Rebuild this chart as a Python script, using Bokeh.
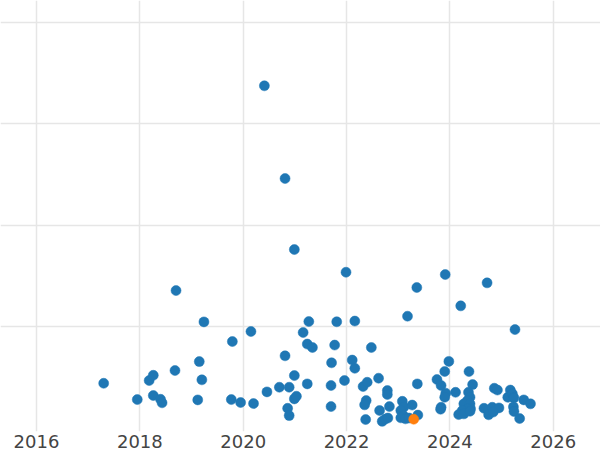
from bokeh.plotting import figure
from bokeh.models import FixedTicker, Range1d, ColumnDataSource
from bokeh.embed import file_html
from bokeh.resources import INLINE

# Decimal years and values
years = [
    2017.30, 2017.95, 2018.18, 2018.26, 2018.26, 2018.40, 2018.43, 2018.68, 2018.70, 2019.15,
    2019.20, 2019.12, 2019.24, 2019.79, 2019.77, 2019.95, 2020.20, 2020.15, 2020.41, 2020.46,
    2020.70, 2020.81, 2020.81, 2020.89, 2020.99, 2020.99, 2020.99, 2021.03, 2020.86, 2020.89,
    2021.16, 2021.24, 2021.34, 2021.27, 2021.24, 2021.70, 2021.70, 2021.71, 2021.77, 2021.81,
    2021.96, 2021.99, 2022.11, 2022.16, 2022.16, 2022.32, 2022.40, 2022.38, 2022.35, 2022.37,
    2022.48, 2022.62, 2022.64, 2022.69, 2022.75, 2022.80, 2022.79, 2022.79, 2022.83, 2023.08,
    2023.11, 2023.05, 2023.10, 2023.05, 2023.14, 2023.21, 2023.27, 2023.18, 2023.36, 2023.37,
    2023.38,
    2023.75, 2023.83, 2023.90, 2023.91, 2023.98, 2023.92, 2023.90, 2023.83, 2023.82, 2024.11,
    2024.21, 2024.37, 2024.44, 2024.36, 2024.39, 2024.34, 2024.27, 2024.39, 2024.40, 2024.34,
    2024.24, 2024.17, 2024.27, 2024.39, 2024.72, 2024.66, 2024.75, 2024.82, 2024.95, 2024.75,
    2024.84, 2024.86, 2024.92, 2025.12, 2025.17, 2025.21, 2025.24, 2025.23, 2025.24, 2025.26,
    2025.35, 2025.43, 2025.56,
]
values = [
    44.0, 27.9, 46.7, 51.9, 31.9, 28.2, 24.7, 56.6, 135.5, 65.4,
    47.4, 27.6, 104.6, 85.2, 27.9, 25.0, 24.0, 95.1, 337.6, 35.5,
    40.1, 246.1, 71.1, 40.1, 176.0, 51.6, 28.6, 31.2, 19.3, 12.1,
    94.1, 82.7, 79.3, 104.9, 43.4, 21.0, 41.8, 64.2, 81.7, 104.7,
    46.7, 153.6, 66.9, 58.8, 105.4, 40.8, 45.0, 26.9, 22.7, 8.2,
    79.3, 49.0, 17.1, 6.4, 8.7, 9.7, 36.8, 32.9, 21.0, 26.2,
    20.5, 17.1, 12.1, 9.9, 8.9, 9.7, 22.5, 110.2, 138.5, 43.4,
    12.6,
    47.7, 41.8, 55.6, 151.3, 65.6, 34.2, 30.2, 20.3, 18.4, 35.1,
    120.4, 55.6, 42.7, 35.1, 30.2, 26.9, 23.7, 23.7, 18.8, 18.8,
    17.1, 13.1, 13.8, 16.4, 143.1, 19.3, 17.6, 20.3, 19.7, 12.9,
    15.6, 39.1, 37.3, 30.2, 37.3, 33.6, 29.6, 20.7, 16.1, 97.0,
    9.2, 27.6, 23.7,
]
highlight_year = [2023.30]
highlight_value = [8.5]

x_ticks = [2016, 2018, 2020, 2022, 2024, 2026]
y_ticks = [100, 200, 300, 400]

p = figure(width=600, height=450, output_backend="svg", toolbar_location=None,
           x_range=Range1d(2015.303, 2026.915), y_range=Range1d(-3.6, 421.8),
           y_axis_location=None, min_border_left=0, min_border_right=0,
           min_border_top=0, min_border_bottom=0)
p.outline_line_color = None
p.background_fill_color = "white"
p.border_fill_color = "white"

p.xaxis.ticker = FixedTicker(ticks=x_ticks)
p.xaxis.minor_tick_line_color = None
p.xaxis.major_tick_line_color = None
p.xaxis.major_tick_out = 0
p.xaxis.axis_line_color = None
p.xaxis.major_label_standoff = 3
p.xaxis.major_label_text_font = "DejaVu Sans"
p.xaxis.major_label_text_font_size = "18px"
p.xaxis.major_label_text_color = "#444444"

p.xgrid.ticker = FixedTicker(ticks=x_ticks)
p.ygrid.ticker = FixedTicker(ticks=y_ticks)
p.xgrid.grid_line_color = "#e6e6e6"
p.ygrid.grid_line_color = "#e6e6e6"
p.xgrid.grid_line_width = 1.5
p.ygrid.grid_line_width = 1.5

src = ColumnDataSource(dict(x=years, y=values))
p.scatter("x", "y", source=src, size=10, fill_color="#1f77b4", line_color="#1f77b4", line_width=0.5)
p.scatter(highlight_year, highlight_value, size=10, fill_color="#ff7f0e", line_color="#ff7f0e", line_width=0.5)

open("out.html", "w").write(file_html(p, INLINE))
